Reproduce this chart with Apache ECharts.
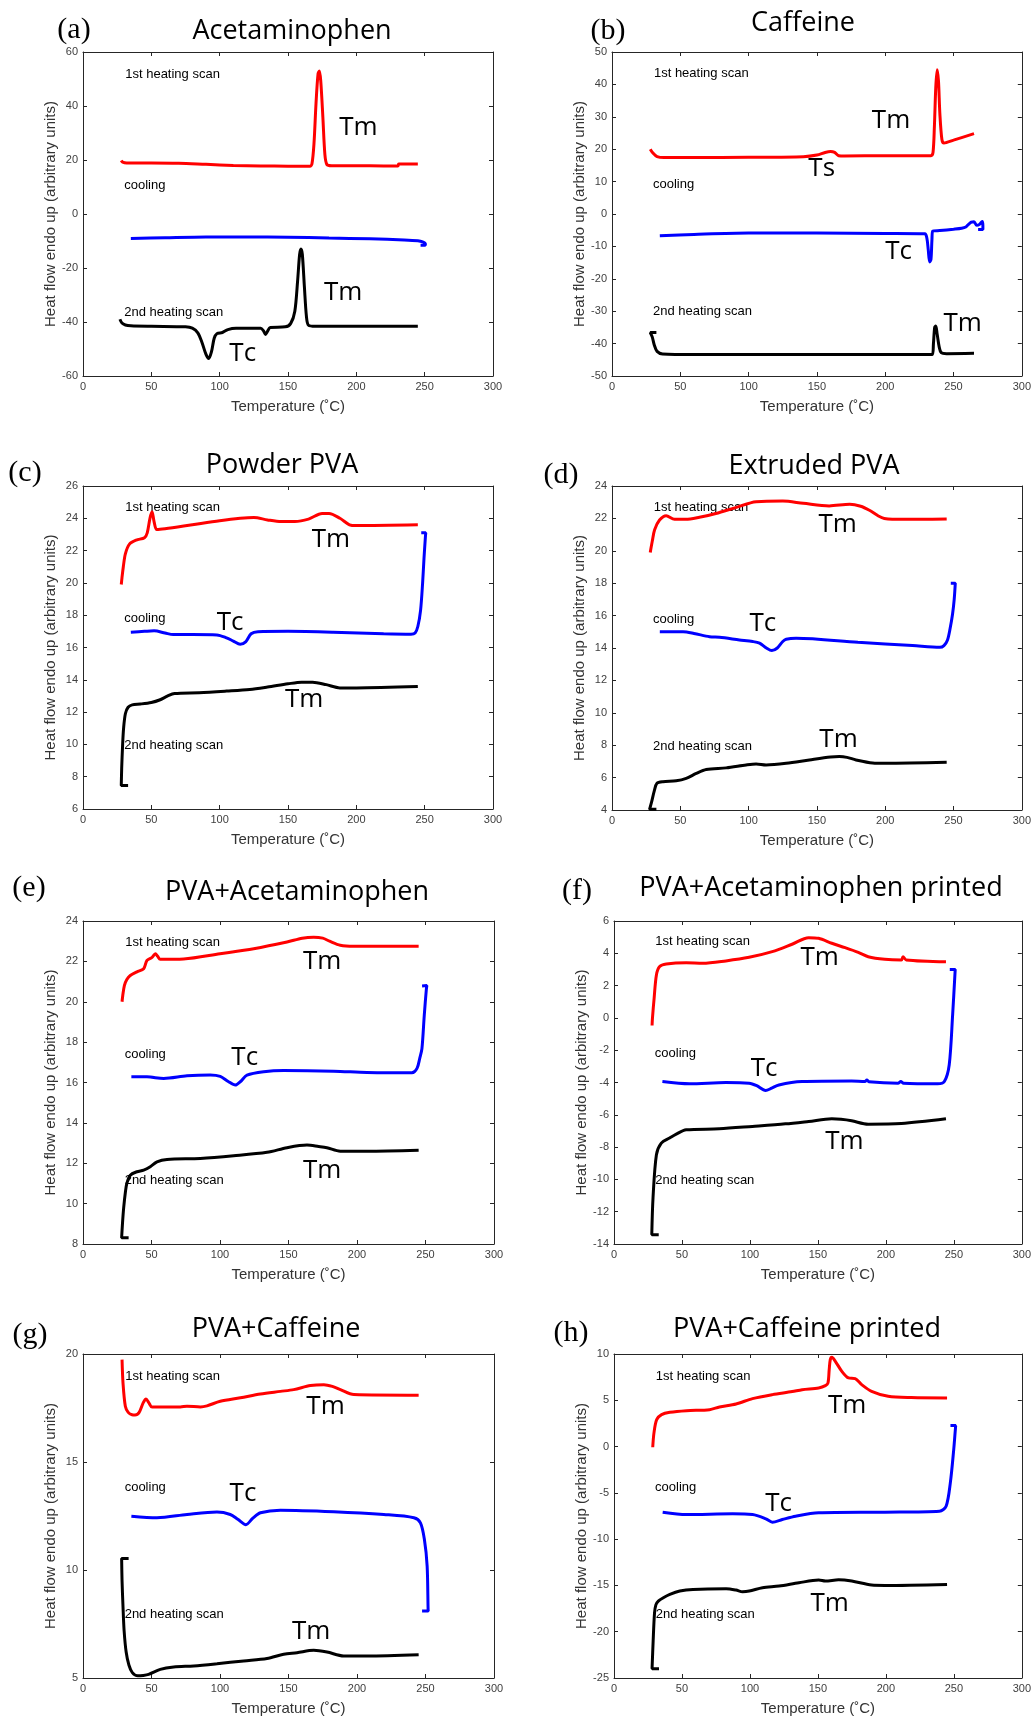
<!DOCTYPE html>
<html><head><meta charset="utf-8">
<script src="https://cdn.jsdelivr.net/npm/echarts@6/dist/echarts.min.js"></script>
<style>html,body{margin:0;padding:0;background:#fff}#c{width:1034px;height:1722px}</style>
</head><body><div id="c"></div>
<script>
// ---------------- DATA ----------------
const titles = ['Acetaminophen','Caffeine','Powder PVA','Extruded PVA','PVA+Acetaminophen','PVA+Acetaminophen printed','PVA+Caffeine','PVA+Caffeine printed'];
const panelLabels = ['(a)','(b)','(c)','(d)','(e)','(f)','(g)','(h)'];
const xMin = 0, xMax = 300, xStep = 50;
const yMins = [-60,-50,6,4,8,-14,5,-25];
const yMaxs = [60,50,26,24,24,6,20,10];
const ySteps = [20,10,2,2,2,2,5,5];
const xName = 'Temperature (\u02DAC)';
const yName = 'Heat flow endo up (arbitrary units)';

// (a) Acetaminophen
const aHeat1 = [[28,19.8],[29,19.2],[32,18.9],[50,18.9],[70,18.8],[90,18.4],[110,18.0],[130,17.8],[150,17.7],[166,17.7],[167.5,18.5],[169,26],[170.5,41],[172,52],[173,53],[174,49],[175.5,36],[177,22],[178.5,18.3],[182,17.9],[200,17.9],[220,17.8],[230.5,17.8],[231,18.5],[245,18.5]];
const aCool = [[35,-9.1],[60,-8.8],[90,-8.5],[120,-8.5],[150,-8.6],[180,-8.9],[210,-9.2],[235,-9.6],[245,-9.9],[248.5,-10.3],[250.5,-11.0],[250.5,-11.6],[247,-11.6]];
const aHeat2 = [[27,-39.0],[28.5,-40.4],[31,-41.1],[35,-41.4],[50,-41.6],[75,-41.8],[80,-42.3],[84,-44],[87,-47.5],[90,-52],[92,-53.5],[94,-51],[96,-46],[98,-44.3],[102,-43.9],[106,-42.8],[112,-42.3],[130,-42.3],[132,-43.2],[133.5,-44.6],[135,-43.5],[137,-42.0],[148,-41.8],[152,-40.5],[155,-36],[157,-25],[158.5,-15],[159.5,-13],[160.5,-15],[162,-27],[163.5,-38],[165,-41.2],[170,-41.6],[245,-41.6]];
// (b) Caffeine
const bHeat1 = [[28,20.0],[30,18.8],[33,17.7],[38,17.4],[60,17.4],[100,17.5],[140,17.7],[150,18.2],[156,19.0],[160,19.3],[163,19.0],[166,18.0],[170,17.9],[200,18.0],[233.5,18.0],[235,19],[236,27],[237,39],[238,44.5],[239,41],[240,31],[241.5,23],[243,21.9],[250,22.8],[265,24.8]];
const bCool = [[35,-6.7],[60,-6.3],[100,-5.9],[150,-5.9],[200,-6.0],[229,-6.1],[230.5,-7.5],[231.5,-11],[232.5,-14.8],[233.5,-14],[234.2,-8],[234.8,-5.3],[240,-5.1],[250,-4.7],[256,-4.4],[259,-4.0],[261,-3.2],[263,-2.5],[265,-2.4],[267,-3.5],[269,-3.2],[271,-2.3],[271.5,-3.6],[271.5,-4.8],[268,-4.8]];
const bHeat2 = [[32.5,-36.6],[28,-36.6],[29.5,-38],[31,-40.5],[33,-42.4],[37,-43.2],[60,-43.4],[234.5,-43.4],[235.3,-40],[236.2,-35],[237,-34.6],[238,-37],[239.5,-41],[241,-42.8],[245,-43.1],[265,-43.0]];
// (c) Powder PVA
const cHeat1 = [[28,19.9],[28.5,20.3],[29.5,21.0],[31,21.8],[34,22.4],[39,22.65],[45,22.8],[47,23.1],[49,24.0],[50.5,24.4],[52,23.8],[54,23.3],[60,23.35],[80,23.6],[100,23.85],[115,24.0],[125,24.05],[135,23.9],[145,23.8],[155,23.8],[165,23.95],[175,24.3],[180,24.3],[188,24.0],[195,23.6],[200,23.55],[245,23.6]];
const cCool = [[35,16.95],[45,17.0],[52,17.03],[60,16.9],[66,16.8],[80,16.8],[98,16.78],[105,16.6],[110,16.4],[115,16.2],[119,16.35],[123,16.85],[128,16.98],[150,17.0],[183,16.95],[220,16.85],[240,16.82],[243,16.9],[245,17.3],[247,18.3],[248.5,20],[249.5,21.5],[250.5,22.8],[250.8,23.1],[247.5,23.1]];
const cHeat2 = [[33,7.45],[28,7.45],[28.3,8.5],[29,10],[29.7,11],[31,11.9],[33,12.3],[36,12.45],[42,12.5],[50,12.6],[56,12.75],[62,13.0],[67,13.15],[85,13.2],[105,13.3],[122,13.4],[135,13.55],[150,13.75],[160,13.85],[168,13.85],[178,13.7],[188,13.5],[200,13.5],[245,13.58]];
// (d) Extruded PVA
const dHeat1 = [[28,19.9],[29.5,20.6],[31.2,21.3],[34.8,21.9],[39.7,22.17],[45.8,21.94],[54,21.94],[64,22.07],[76,22.3],[91,22.68],[105.5,23.03],[125,23.07],[140,22.93],[159,22.77],[174,22.87],[182,22.75],[188.4,22.5],[195,22.15],[199.3,22.0],[212.7,21.94],[245,21.97]];
const dCool = [[35,15.0],[52,15.0],[60,14.9],[71.4,14.7],[78.7,14.66],[93.3,14.5],[103,14.4],[108,14.3],[113,14.0],[117,13.84],[121,14.0],[125,14.4],[127.5,14.54],[134.8,14.6],[180,14.35],[220,14.15],[240,14.04],[243,14.15],[245.6,14.5],[247.5,15.2],[249.3,16.1],[250.5,17.0],[251.3,18.0],[248,18.0]];
const dHeat2 = [[32.5,4.04],[27.5,4.04],[29,4.5],[31,5.2],[32.9,5.65],[37.3,5.75],[47,5.8],[54.3,5.95],[61.7,6.26],[69,6.5],[83.6,6.6],[98.2,6.78],[105.5,6.84],[112.8,6.78],[127.5,6.88],[144.5,7.09],[160,7.27],[166.4,7.3],[172,7.25],[178.6,7.09],[190.8,6.9],[200,6.88],[245,6.94]];
// (e) PVA+Acetaminophen
const eHeat1 = [[28.5,20.0],[29,20.3],[30.2,20.8],[32,21.1],[34.5,21.3],[39.4,21.48],[44.3,21.64],[46.7,22.05],[50.4,22.2],[52.8,22.38],[54.5,22.25],[56.4,22.1],[73.5,22.12],[100,22.38],[124.6,22.63],[148.9,22.96],[160,23.15],[168.4,23.2],[175,23.15],[180,23.0],[187.8,22.8],[197.6,22.75],[245,22.75]];
const eCool = [[35.3,16.28],[46.7,16.28],[58.9,16.2],[75.9,16.33],[92.9,16.37],[100.2,16.3],[106,16.05],[111.2,15.87],[115,16.05],[119.7,16.36],[131.9,16.53],[146.5,16.59],[183,16.56],[207.3,16.5],[240.1,16.48],[243.8,16.7],[245.8,17.2],[247.4,17.68],[249.1,19.33],[250.6,20.6],[251,20.8],[247.5,20.78]];
const eHeat2 = [[33.3,8.31],[28.2,8.31],[28.8,9.0],[29.7,9.8],[31,10.6],[32,11.0],[34.5,11.41],[39.4,11.58],[44.3,11.66],[49.1,11.83],[54,12.07],[61.3,12.19],[85.6,12.24],[110,12.37],[134.3,12.54],[148.9,12.77],[163.5,12.9],[172,12.83],[178,12.77],[187.8,12.6],[207.3,12.6],[245,12.65]];
// (f) PVA+Acetaminophen printed
const fHeat1 = [[28,-0.47],[28.3,0],[29.5,1.2],[31.2,2.66],[33.6,3.18],[38.5,3.34],[53.1,3.42],[65.3,3.38],[82.3,3.53],[99.4,3.75],[116.4,4.1],[131,4.56],[143.2,4.97],[150.5,4.93],[160.2,4.62],[170,4.35],[179.7,4.06],[187,3.79],[199.2,3.63],[211.4,3.59],[212.6,3.79],[215,3.59],[244.2,3.48]];
const fCool = [[35.6,-3.94],[55.5,-4.08],[82.3,-4.0],[99.4,-4.04],[105,-4.2],[111.5,-4.5],[116,-4.35],[121.3,-4.15],[138.3,-3.94],[174.8,-3.9],[184.6,-3.94],[186,-3.85],[187.5,-3.95],[208.9,-4.04],[211,-3.94],[213,-4.04],[238.1,-4.08],[243,-3.94],[246.6,-2.9],[249.1,0.19],[251,3.0],[247,3.0]];
const fHeat2 = [[32.9,-13.42],[27.8,-13.42],[28.7,-11.15],[31.2,-8.47],[34.8,-7.75],[40.9,-7.44],[45.8,-7.2],[53.1,-6.93],[77.4,-6.87],[101.8,-6.72],[126.1,-6.56],[143.2,-6.41],[160.2,-6.25],[167,-6.28],[174.8,-6.37],[187,-6.58],[211.4,-6.54],[244.2,-6.25]];
// (g) PVA+Caffeine
const gHeat1 = [[28.5,19.74],[29.2,18.66],[30.9,17.58],[33,17.3],[35.8,17.19],[38,17.18],[41,17.3],[44,17.75],[46,17.92],[48,17.75],[50.4,17.55],[71.1,17.55],[75.9,17.58],[85.7,17.55],[90.5,17.6],[100.2,17.81],[114.9,17.97],[129.5,18.15],[144.1,18.27],[153.8,18.35],[166,18.54],[175.8,18.58],[182,18.5],[187.9,18.35],[197.7,18.12],[245,18.09]];
const gCool = [[35.3,12.49],[54,12.42],[75.9,12.57],[97.8,12.68],[107.5,12.57],[113,12.35],[118.9,12.1],[124,12.4],[129.5,12.65],[144.1,12.77],[183,12.7],[219.6,12.57],[241.5,12.42],[246.3,12.18],[249.2,11.41],[251.2,10.18],[251.9,8.18],[252,8.1],[247.5,8.1]];
const gHeat2 = [[33.3,10.53],[28.2,10.53],[28.5,9.5],[29.2,8.3],[30,7.2],[31.5,6.2],[33.5,5.6],[36,5.25],[40,5.1],[44,5.12],[47.9,5.17],[56.4,5.4],[66.2,5.51],[80.8,5.56],[97.8,5.66],[117.3,5.79],[134.3,5.9],[146.5,6.1],[156.2,6.17],[168.4,6.28],[178.1,6.2],[190.3,6.02],[207.3,6.02],[245,6.08]];
// (h) PVA+Caffeine printed
const hHeat1 = [[28.5,-0.07],[29.4,1.48],[31.4,2.91],[35,3.45],[41.1,3.7],[53.3,3.88],[70.3,3.99],[77.6,4.28],[89.8,4.6],[101.9,5.18],[116.5,5.61],[131.1,5.94],[138.4,6.15],[150.6,6.33],[155.5,6.58],[157.4,6.87],[158.3,8.3],[159.1,9.39],[160.3,9.64],[162.8,9.21],[167.6,8.13],[172.5,7.41],[177.4,7.34],[182.2,6.69],[189.5,5.97],[201.7,5.43],[218.7,5.29],[245,5.25]];
const hCool = [[35.8,-7.09],[53.3,-7.34],[87.3,-7.27],[101.9,-7.34],[111.7,-7.8],[116.5,-8.17],[123.8,-7.88],[133.6,-7.52],[150.6,-7.16],[199.3,-7.09],[239.4,-6.98],[244.3,-6.44],[247.4,-3.92],[249.9,-0.32],[251.3,2.19],[251.5,2.27],[247.5,2.27]];
const hHeat2 = [[33.1,-23.99],[28,-23.99],[28.8,-21],[29.8,-18],[30.8,-17.1],[32.6,-16.7],[36.3,-16.33],[41.1,-15.97],[48.4,-15.61],[58.1,-15.43],[82.5,-15.36],[89.8,-15.5],[94.6,-15.68],[99.5,-15.61],[109.2,-15.25],[121.4,-15.07],[136,-14.71],[150.6,-14.42],[155.5,-14.53],[165.2,-14.39],[174.9,-14.53],[189.5,-14.96],[199.3,-15.0],[245,-14.89]];

const heat1 = [aHeat1,bHeat1,cHeat1,dHeat1,eHeat1,fHeat1,gHeat1,hHeat1];
const cool = [aCool,bCool,cCool,dCool,eCool,fCool,gCool,hCool];
const heat2 = [aHeat2,bHeat2,cHeat2,dHeat2,eHeat2,fHeat2,gHeat2,hHeat2];

// annotation texts anchored in data coordinates [text, x, y, big?]
const notes = [
  [['1st heating scan',30.9,51.7,0],['cooling',30.2,10.6,0],['2nd heating scan',30.2,-36.3,0],['Tm',187.5,31.9,1],['Tm',176.3,-29.1,1],['Tc',107.1,-51.7,1]],
  [['1st heating scan',30.7,43.3,0],['cooling',30,9.05,0],['2nd heating scan',30,-30.2,0],['Tm',190.2,28.7,1],['Ts',143.7,14,1],['Tc',200,-11.7,1],['Tm',242.7,-33.8,1]],
  [['1st heating scan',30.9,24.66,0],['cooling',30.2,17.77,0],['2nd heating scan',30.2,9.94,0],['Tm',167.3,22.66,1],['Tc',97.9,17.55,1],['Tm',147.8,12.76,1]],
  [['1st heating scan',30.5,22.68,0],['cooling',30,15.79,0],['2nd heating scan',30,7.91,0],['Tm',151.1,21.63,1],['Tc',100.6,15.52,1],['Tm',151.8,8.36,1]],
  [['1st heating scan',30.9,22.96,0],['cooling',30.4,17.4,0],['2nd heating scan',30.4,11.13,0],['Tm',160.6,21.97,1],['Tc',108.3,17.22,1],['Tm',160.6,11.63,1]],
  [['1st heating scan',30.4,4.72,0],['cooling',30,-2.23,0],['2nd heating scan',30.4,-10.06,0],['Tm',137.1,3.73,1],['Tc',100.6,-3.11,1],['Tm',155.4,-7.65,1]],
  [['1st heating scan',30.9,18.97,0],['cooling',30.4,13.8,0],['2nd heating scan',30.4,7.94,0],['Tm',163,17.58,1],['Tc',107,13.54,1],['Tm',152.5,7.13,1]],
  [['1st heating scan',30.7,7.59,0],['cooling',30.2,-4.46,0],['2nd heating scan',30.7,-18.13,0],['Tm',157.4,4.42,1],['Tc',111.2,-6.15,1],['Tm',144.5,-16.94,1]]
];

// ---------------- LAYOUT ----------------
const grids = [[83,52,410,324],[612,52,410,324],[83,486,410,323],[612,486,411,324],[83,921,411,323],[614,921,411,323],[83,1354,411,324],[614,1354,411,324]];
const titlePos = [[292,31],[803,23],[282,465],[814,466],[297,892],[821,888],[276,1329],[807,1329]];
const labelPos = [[74,30],[608,31],[25,473],[561,475],[29,888],[577,891],[30,1335],[571,1333]];
const colors = ['#ff0000','#0000ff','#000000'];

const AX = '#262626';
const option = {animation:false, backgroundColor:'#fff', grid:[], xAxis:[], yAxis:[], series:[]};
for (let i=0;i<8;i++){
  const g = grids[i];
  option.grid.push({left:g[0], top:g[1], width:g[2], height:g[3], containLabel:false});
  const common = {gridIndex:i, type:'value', splitLine:{show:false},
    axisLine:{show:true,onZero:false,lineStyle:{color:AX,width:1}},
    axisTick:{show:true,inside:true,length:4,lineStyle:{color:AX,width:1}}};
  option.xAxis.push(Object.assign({}, common, {position:'bottom', min:xMin, max:xMax, interval:xStep,
    axisLabel:{fontSize:11,color:'#404040',margin:5,fontFamily:'Liberation Sans'},
    name:xName, nameLocation:'middle', nameGap:23,
    nameTextStyle:{fontSize:15,color:'#333',fontFamily:'Liberation Sans'}}));
  option.xAxis.push(Object.assign({}, common, {position:'top', min:xMin, max:xMax, interval:xStep, axisLabel:{show:false}}));
  option.yAxis.push(Object.assign({}, common, {position:'left', min:yMins[i], max:yMaxs[i], interval:ySteps[i],
    axisLabel:{fontSize:11,color:'#404040',margin:5,fontFamily:'Liberation Sans'},
    name:yName, nameLocation:'middle', nameGap:25,
    nameTextStyle:{fontSize:15,color:'#333',fontFamily:'Liberation Sans'}}));
  option.yAxis.push(Object.assign({}, common, {position:'right', min:yMins[i], max:yMaxs[i], interval:ySteps[i], axisLabel:{show:false}}));
  [heat1[i], cool[i], heat2[i]].forEach((d,k)=>{
    option.series.push({type:'line', xAxisIndex:2*i, yAxisIndex:2*i, data:d, showSymbol:false, symbol:'none',
      smooth:0.3, lineStyle:{color:colors[k], width:3}, z:3});
  });
}
const chart = echarts.init(document.getElementById('c'), null, {renderer:'canvas'});
chart.setOption(option);

const graphic = [];
for (let i=0;i<8;i++){
  graphic.push({type:'text', x:titlePos[i][0], y:titlePos[i][1], z:10,
    style:{text:titles[i], font:'27px "Open Sans"', fill:'#000', textAlign:'center', textVerticalAlign:'middle'}});
  graphic.push({type:'text', x:labelPos[i][0], y:labelPos[i][1], z:10,
    style:{text:panelLabels[i], font:'30px "Liberation Serif"', fill:'#000', textAlign:'center', textVerticalAlign:'middle'}});
  notes[i].forEach(n=>{
    const p = chart.convertToPixel({xAxisIndex:2*i, yAxisIndex:2*i}, [n[1], n[2]]);
    graphic.push({type:'text', x:p[0], y:p[1], z:n[3]?10:1,
      style:{text:n[0], font: n[3] ? '26px "Open Sans"' : '13px "Liberation Sans"', fill:'#000', textAlign:'left', textVerticalAlign:'middle'}});
  });
}
chart.setOption({graphic:graphic});
</script>
</body></html>
